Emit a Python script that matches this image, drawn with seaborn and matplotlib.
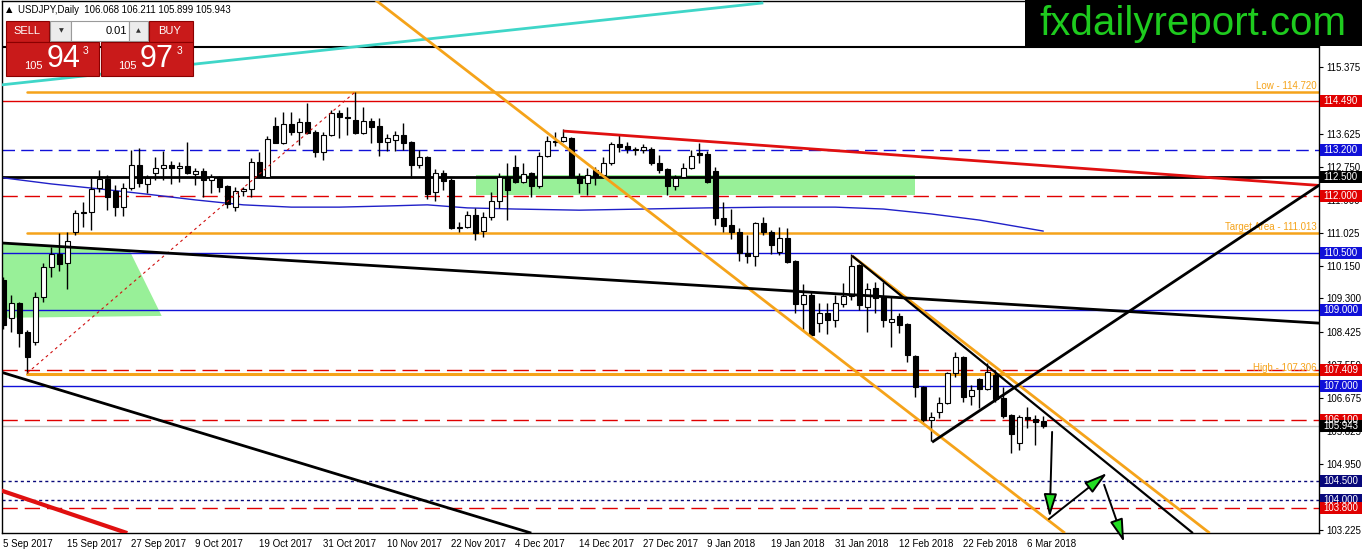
import numpy as np
import pandas as pd
import matplotlib
matplotlib.use("Agg")
import matplotlib.pyplot as plt
import matplotlib.transforms as mtransforms
from matplotlib.patches import Rectangle, Polygon
import seaborn as sns

W, H = 1362, 554

# --- candles USDJPY diario ---
opens = [109.78, 108.79, 109.18, 108.42, 108.15, 109.34, 110.13, 110.47, 110.23, 111.05,
         111.55, 111.57, 112.20, 112.44, 112.12, 111.70, 112.20, 112.81, 112.31, 112.60,
         112.73, 112.81, 112.73, 112.78, 112.57, 112.65, 112.41, 112.49, 112.25, 111.70,
         112.12, 112.18, 112.89, 112.49, 113.83, 113.39, 113.89, 113.67, 113.94, 113.67,
         113.15, 113.60, 114.17, 114.07, 113.99, 113.65, 113.96, 113.83, 113.41, 113.47,
         113.60, 113.41, 112.81, 113.02, 112.10, 112.60, 112.41, 111.15, 111.18, 111.49,
         111.07, 111.44, 111.86, 112.49, 112.75, 112.36, 112.60, 112.26, 113.04, 113.44,
         113.44, 113.52, 112.52, 112.33, 112.68, 112.55, 112.86, 113.36, 113.31, 113.23,
         113.20, 113.23, 112.86, 112.70, 112.26, 112.49, 112.73, 113.12, 113.10, 112.65,
         111.41, 111.23, 111.05, 110.49, 110.41, 111.28, 111.05, 110.52, 110.89, 110.28,
         109.15, 109.39, 108.65, 108.92, 108.73, 109.15, 109.36, 110.18, 109.07, 109.57,
         109.34, 108.68, 108.84, 108.63, 107.79, 106.97, 106.10, 106.31, 106.55, 107.34,
         107.76, 106.73, 107.18, 106.92, 107.29, 106.68, 106.23, 105.50, 106.18, 106.13,
         106.068]
highs = [109.85, 109.39, 109.21, 108.47, 109.47, 110.23, 110.65, 111.02, 111.05, 111.63,
         111.83, 112.47, 112.68, 112.54, 112.28, 112.33, 113.20, 113.25, 112.54, 113.02,
         113.17, 112.91, 112.89, 113.41, 112.73, 112.73, 112.57, 112.52, 112.28, 112.23,
         112.23, 112.99, 113.15, 113.57, 114.07, 114.20, 114.20, 114.04, 114.44, 113.73,
         113.67, 114.25, 114.25, 114.33, 114.73, 114.33, 114.04, 114.04, 113.62, 113.70,
         113.91, 113.43, 113.20, 113.04, 112.70, 112.68, 112.47, 111.31, 111.60, 111.68,
         111.57, 112.10, 112.60, 112.86, 113.07, 112.86, 112.62, 113.15, 113.57, 113.68,
         113.75, 113.55, 112.60, 112.73, 112.75, 113.02, 113.41, 113.60, 113.41, 113.28,
         113.36, 113.28, 113.07, 112.73, 112.54, 112.86, 113.20, 113.39, 113.17, 112.75,
         111.83, 111.65, 111.15, 110.97, 111.31, 111.44, 111.10, 111.18, 111.15, 110.31,
         109.68, 109.47, 109.18, 109.18, 109.39, 109.70, 110.48, 110.20, 109.70, 109.73,
         109.73, 109.34, 108.92, 108.65, 107.81, 107.00, 106.31, 106.71, 107.36, 107.90,
         107.78, 107.02, 107.21, 107.60, 107.42, 106.97, 106.26, 106.23, 106.45, 106.23,
         106.211]
lows = [108.50, 108.42, 108.02, 107.34, 108.08, 109.21, 109.86, 110.02, 109.55, 110.97,
        111.18, 111.10, 112.10, 111.62, 111.47, 111.47, 112.15, 112.23, 112.07, 112.41,
        112.41, 112.31, 112.36, 112.58, 112.28, 111.97, 112.07, 112.10, 111.68, 111.60,
        112.00, 111.97, 112.47, 112.47, 113.38, 113.37, 113.60, 113.33, 113.63, 113.02,
        112.94, 113.58, 113.52, 113.60, 113.63, 113.62, 113.39, 113.04, 113.17, 113.17,
        113.20, 112.47, 112.73, 111.91, 111.86, 112.15, 111.13, 111.05, 111.15, 110.84,
        110.91, 111.36, 111.68, 111.36, 112.33, 112.33, 111.97, 112.20, 113.02, 113.30,
        113.41, 112.47, 112.07, 112.02, 112.28, 112.49, 112.81, 113.15, 113.12, 113.07,
        113.12, 112.81, 112.60, 112.02, 112.15, 112.47, 112.70, 112.86, 112.33, 111.23,
        111.05, 110.86, 110.28, 110.23, 110.15, 110.97, 110.47, 110.44, 110.23, 108.92,
        108.47, 108.28, 108.42, 108.36, 108.55, 109.07, 109.26, 109.00, 108.42, 108.92,
        108.55, 108.02, 108.39, 107.63, 106.71, 106.05, 105.55, 106.16, 106.52, 107.23,
        106.58, 106.50, 106.42, 106.89, 106.58, 106.16, 105.24, 105.31, 105.89, 105.45,
        105.899]
closes = [108.60, 109.18, 108.39, 107.76, 109.34, 110.13, 110.47, 110.20, 110.81, 111.55,
          111.57, 112.18, 112.44, 111.97, 111.70, 112.20, 112.81, 112.33, 112.47, 112.73,
          112.81, 112.73, 112.78, 112.60, 112.65, 112.41, 112.49, 112.23, 111.78, 112.12,
          112.18, 112.89, 112.49, 113.49, 113.39, 113.89, 113.67, 113.94, 113.65, 113.15,
          113.60, 114.17, 114.07, 114.05, 113.65, 113.96, 113.81, 113.41, 113.52, 113.60,
          113.39, 112.81, 113.02, 112.05, 112.60, 112.39, 111.15, 111.18, 111.49, 111.02,
          111.44, 111.86, 112.49, 112.15, 112.36, 112.57, 112.26, 113.04, 113.44, 113.40,
          113.54, 112.52, 112.33, 112.55, 112.52, 112.86, 113.36, 113.28, 113.23, 113.20,
          113.28, 112.86, 112.68, 112.26, 112.47, 112.73, 113.04, 113.07, 112.36, 111.41,
          111.20, 111.05, 110.49, 110.41, 111.28, 111.05, 110.70, 110.89, 110.26, 109.15,
          109.39, 108.35, 108.92, 108.73, 109.18, 109.36, 110.15, 109.13, 109.55, 109.31,
          108.73, 108.76, 108.60, 107.81, 106.97, 106.10, 106.18, 106.55, 107.34, 107.76,
          106.71, 106.89, 106.92, 107.37, 106.66, 106.21, 105.73, 106.18, 106.13, 106.05,
          105.943]

dates = pd.bdate_range("2017-09-05", periods=len(opens), freq="C",
                       holidays=["2017-12-25", "2018-01-01"])

# media movel (azul)
ma_bar = [0, 6, 12, 18, 24, 30, 36, 42, 48, 53, 58, 64, 72, 80, 88, 96, 104, 110, 116, 122, 130]
ma_val = [112.47, 112.31, 112.18, 112.04, 111.89, 111.76, 111.70, 111.70, 111.73, 111.76,
          111.68, 111.65, 111.62, 111.65, 111.68, 111.70, 111.70, 111.65, 111.52, 111.36, 111.07]

# escala de precos (114.500 e 104.075 ficam escondidos pelas caixas)
ytick_vals = [115.375, 114.5, 113.625, 112.75, 111.9, 111.025, 110.15, 109.3,
              108.425, 107.55, 106.675, 105.825, 104.95, 104.075, 103.225]
ytick_hidden = [114.5, 104.075]

# linhas horizontais (suporte / resistencia)
level_vals = [115.91, 114.49, 113.2, 112.5, 112.0, 110.5, 109.0, 107.409, 107.0,
              106.1, 105.943, 104.5, 104.0, 103.8]
level_kind = ["top", "red", "bluedash", "black", "reddash", "blue", "blue", "reddash",
              "blue", "reddash", "bid", "navydot", "navydot", "reddash"]

# linhas laranja com texto
fibo_vals = [114.72, 111.013, 107.306]
fibo_names = ["Low", "Target Area", "High"]
fibo_start = 3

# linhas de tendencia: (bar0, preco0, bar1, preco1)
trend_lines = {
    "cyan": (-0.4, 114.91, 95.0, 117.07),
    "fib": (3, 107.34, 44, 114.73),
    "chan_low": (46.5, 117.15, 132.7, 103.13),
    "chan_up": (106.1, 110.42, 150.8, 103.13),
    "down_black": (106.1, 110.42, 148.7, 103.13),
    "red_down": (70.0, 113.70, 164.5, 112.27),
    "long_black": (-0.4, 110.76, 164.5, 108.65),
    "low_black": (-0.4, 107.37, 66.0, 103.13),
    "low_red": (-0.4, 104.26, 15.5, 103.13),
    "up_black": (116.1, 105.52, 164.5, 112.28),
}

# zonas verdes
green_box = (59.1, 112.02, 114.0, 112.55)
green_poly_bar = [-0.2, 15.8, 19.8, -0.2]
green_poly_val = [110.76, 110.55, 108.84, 108.79]

# setas de projecao (inicio -> ponta)
arrows = [((131.1, 105.79), (130.8, 103.55)),
          ((130.7, 103.50), (137.97, 104.71)),
          ((137.6, 104.40), (140.1, 102.89))]

# --- estilo ---
sns.set_theme(style="white")
plt.rcParams["font.family"] = ["Liberation Sans", "DejaVu Sans"]

RED = "#e00000"
BLUE = "#1010d8"
NAVY = "#08087a"
ORANGE = "#f5a31a"
kind_style = {
    "top": dict(color="black", ls="-", lw=1.5, box=None),
    "red": dict(color=RED, ls="-", lw=1.0, box=RED),
    "bluedash": dict(color=BLUE, ls=(0, (9, 4.5)), lw=1.0, box=BLUE),
    "black": dict(color="black", ls="-", lw=2.0, box="black"),
    "reddash": dict(color=RED, ls=(0, (11, 5)), lw=1.0, box=RED),
    "blue": dict(color=BLUE, ls="-", lw=1.0, box=BLUE),
    "bid": dict(color="#c0c0c0", ls="-", lw=1.0, box="black"),
    "navydot": dict(color=NAVY, ls=(0, (2.2, 2.2)), lw=1.0, box=NAVY),
}
line_style = {
    "cyan": dict(color="#3fd6c8", lw=2.0),
    "fib": dict(color="#d01010", lw=0.8, ls=(0, (2.5, 3))),
    "chan_low": dict(color=ORANGE, lw=2.0),
    "chan_up": dict(color=ORANGE, lw=2.0),
    "down_black": dict(color="black", lw=1.6),
    "red_down": dict(color="#e01010", lw=2.0),
    "long_black": dict(color="black", lw=2.0),
    "low_black": dict(color="black", lw=2.0),
    "low_red": dict(color="#e01010", lw=3.0),
    "up_black": dict(color="black", lw=2.0),
}

fig = plt.figure(figsize=(W / 100, H / 100), dpi=100)
AX_W, AX_H = 1317, 532
ax = fig.add_axes([2 / W, 21 / H, AX_W / W, AX_H / H])
ax.set_facecolor("white")
ax.set_xlim(-0.16, 164.46)
ax.set_ylim(103.133, 117.119)
px_per_unit = AX_H / (117.119 - 103.133)

# zonas verdes
ax.add_patch(Rectangle((green_box[0], green_box[1]), green_box[2] - green_box[0],
                       green_box[3] - green_box[1], fc="#98f098", ec="none", zorder=1))
ax.add_patch(Polygon(list(zip(green_poly_bar, green_poly_val)), closed=True,
                     fc="#98f098", ec="none", zorder=1))

# linhas horizontais
for v, k in zip(level_vals, level_kind):
    st = kind_style[k]
    ax.axhline(v, color=st["color"], ls=st["ls"], lw=st["lw"], zorder=2)

for v, name in zip(fibo_vals, fibo_names):
    ax.plot([fibo_start, 164.46], [v, v], color=ORANGE, lw=2.2 if name == "High" else 1.8, zorder=2)
    ax.text(164.2, v + 0.03, f"{name} - {v:.3f}", color=ORANGE, fontsize=7,
            ha="right", va="bottom", zorder=2)

# media movel
sns.lineplot(x=ma_bar, y=ma_val, ax=ax, color="#2020c8", lw=1.0, zorder=2)

# candles
idx = np.arange(len(opens))
o = np.array(opens); c = np.array(closes)
ax.vlines(idx, lows, highs, color="black", lw=1.0, zorder=3)
body_low = np.minimum(o, c)
body_h = np.maximum(np.abs(c - o), 0.012)
face = np.where(c >= o, "white", "black")
ax.bar(idx, body_h, bottom=body_low, width=0.62, color=face, edgecolor="black",
       linewidth=0.8, zorder=3.1)

# linhas de tendencia
for key, (x0, y0, x1, y1) in trend_lines.items():
    ax.plot([x0, x1], [y0, y1], zorder=4, solid_capstyle="butt", **line_style[key])

# setas
for (x0, y0), (x1, y1) in arrows:
    ax.annotate("", xy=(x1, y1), xytext=(x0, y0), annotation_clip=False, zorder=6,
                arrowprops=dict(arrowstyle="-|>,head_length=1.4,head_width=0.4",
                                mutation_scale=10, fc="#22dd22", ec="black", lw=1.4,
                                shrinkA=0, shrinkB=0))

# eixos
for s in ax.spines.values():
    s.set_color("black")
    s.set_linewidth(1.0)
ax.yaxis.tick_right()
ax.set_yticks(ytick_vals)
ax.set_yticklabels(["" if v in ytick_hidden else f"{v:.3f}" for v in ytick_vals])
xt = list(range(0, len(opens), 8))
ax.set_xticks(xt)
ax.set_xticklabels([f"{dates[i].day} {dates[i]:%b %Y}" for i in xt], ha="left")
ax.tick_params(axis="both", which="both", direction="out", length=3, width=0.8,
               labelsize=7, colors="black", pad=2)
ax.tick_params(axis="x", pad=1)
ax.set_xlabel("")
ax.set_ylabel("")
ax.grid(False)

# caixas de preco no eixo direito (ate a borda da imagem)
trans = mtransforms.blended_transform_factory(ax.transAxes, ax.transData)
box_h = 12 / px_per_unit
for v, k in zip(level_vals, level_kind):
    box = kind_style[k]["box"]
    if box is None:
        continue
    ax.add_patch(Rectangle((1.0 + 1 / AX_W, v - box_h / 2), (W - 2 - 1320) / AX_W + 2 / AX_W, box_h,
                           transform=trans, fc=box, ec="none", clip_on=False, zorder=9))
    ax.text(1.0 + 4 / AX_W, v, f"{v:.3f}", transform=trans, ha="left", va="center",
            fontsize=7, color="white", clip_on=False, zorder=10)

# --- elementos da figura (titulo, painel, marca) ---
def fig_rect(x0, y0, x1, y1, **kw):
    fig.add_artist(Rectangle((x0 / W, 1 - y1 / H), (x1 - x0) / W, (y1 - y0) / H,
                             transform=fig.transFigure, zorder=5, **kw))

def fig_text(x, y, s, **kw):
    fig.text(x / W, 1 - y / H, s, zorder=6, **kw)

fig_text(6, 10, "\u25b2", fontsize=6, va="center", ha="left", color="black",
         family=["DejaVu Sans"])
fig_text(18, 10, "USDJPY,Daily  106.068 106.211 105.899 105.943",
         fontsize=6.9, va="center", ha="left", color="black")

PANEL_RED = "#c91a1a"
fig_rect(6, 21, 49, 42, fc=PANEL_RED, ec="#8a0000", lw=0.8)
fig_rect(50, 21, 71, 41, fc="#ececec", ec="#9a9a9a", lw=0.8)
fig_rect(71, 21, 129, 41, fc="white", ec="#9a9a9a", lw=0.8)
fig_rect(129, 21, 148, 41, fc="#ececec", ec="#9a9a9a", lw=0.8)
fig_rect(149, 21, 193, 42, fc=PANEL_RED, ec="#8a0000", lw=0.8)
fig_rect(6, 42, 99, 76, fc=PANEL_RED, ec="#8a0000", lw=0.8)
fig_rect(101, 42, 193, 76, fc=PANEL_RED, ec="#8a0000", lw=0.8)
fig_text(27, 31, "SELL", fontsize=8, color="white", ha="center", va="center")
fig_text(170, 31, "BUY", fontsize=8, color="white", ha="center", va="center")
fig_text(61, 31, "\u25bc", fontsize=4.5, color="#333333", ha="center", va="center",
         family=["DejaVu Sans"])
fig_text(138, 31, "\u25b2", fontsize=4.5, color="#333333", ha="center", va="center",
         family=["DejaVu Sans"])
fig_text(127, 31, "0.01", fontsize=8, color="black", ha="right", va="center")
fig_text(33, 66, "105", fontsize=8, color="white", ha="center", va="center")
fig_text(64, 59, "94", fontsize=22, color="white", ha="center", va="center")
fig_text(86, 51, "3", fontsize=7.5, color="white", ha="center", va="center")
fig_text(127, 66, "105", fontsize=8, color="white", ha="center", va="center")
fig_text(157, 59, "97", fontsize=22, color="white", ha="center", va="center")
fig_text(180, 51, "3", fontsize=7.5, color="white", ha="center", va="center")

# marca d'agua
fig_rect(1025, 0, W, 46, fc="black", ec="none")
fig_text(1193, 24, "fxdailyreport.com", fontsize=29, color="#1ecb1e",
         ha="center", va="center")

fig.savefig("out.png", dpi=100)
